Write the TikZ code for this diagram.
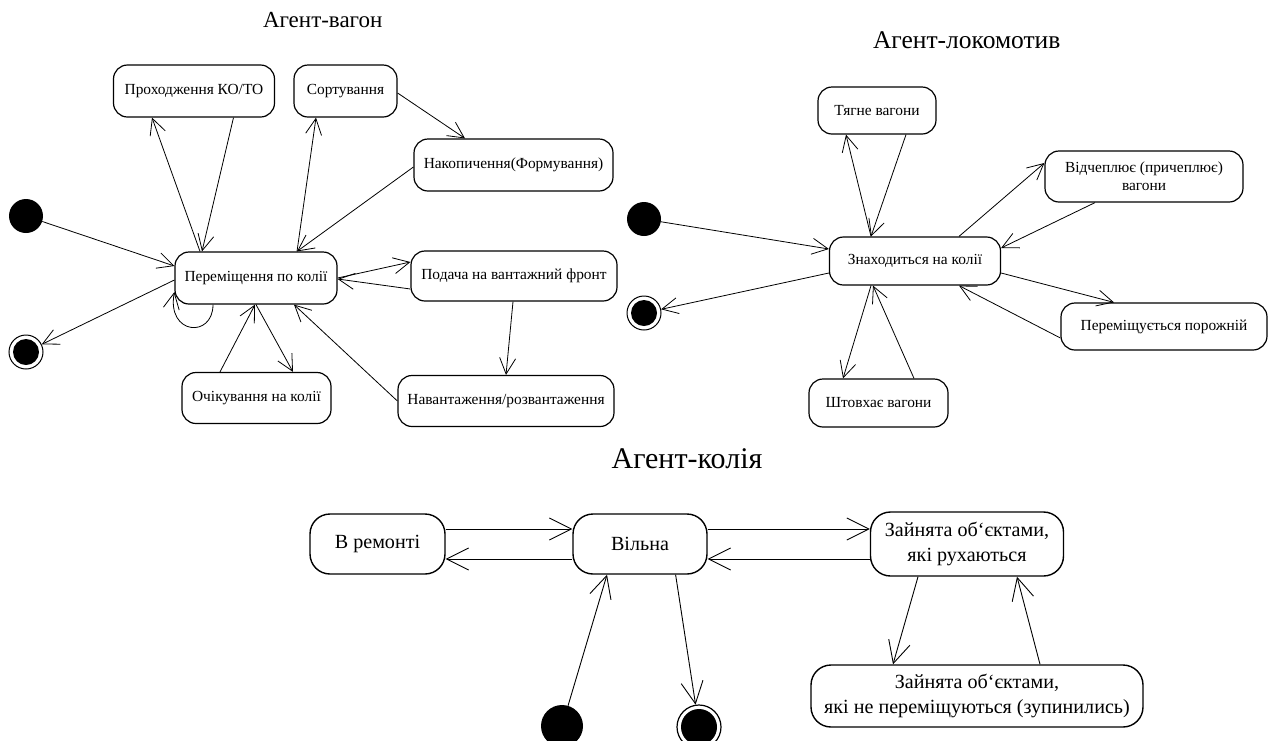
\documentclass[tikz,border=0pt]{standalone}
\usepackage{fontspec}
\setmainfont{Liberation Serif}
\usetikzlibrary{arrows.meta,calc}
\tikzset{
  st/.style={draw, line width=1.2pt, rounded corners=14pt, align=center, inner sep=0pt,
    font=\fontsize{15.4}{18.3}\selectfont},
  stb/.style={draw, line width=1.4pt, rounded corners=20pt, align=center, inner sep=0pt,
    font=\fontsize{20.1}{25.7}\selectfont},
  arr/.style={line width=0.8pt, -{Straight Barb[length=16pt,width=16pt]}},
  arrb/.style={line width=0.9pt, -{Straight Barb[length=22pt,width=22pt]}},
  ini/.style={circle, fill=black, minimum size=34pt, inner sep=0pt},
  fin/.style={circle, draw=black, fill=white, line width=1pt, minimum size=34pt, inner sep=0pt,
    path picture={\fill[black] (path picture bounding box.center) circle (13pt);}},
  inib/.style={circle, fill=black, minimum size=42pt, inner sep=0pt},
  finb/.style={circle, draw=black, fill=white, line width=1.2pt, minimum size=44pt, inner sep=0pt,
    path picture={\fill[black] (path picture bounding box.center) circle (18pt);}},
  ttl/.style={font=\fontsize{23}{26}\selectfont, anchor=base, inner sep=0pt},
}
\begin{document}
\begin{tikzpicture}[x=1pt,y=-1pt]
\useasboundingbox (0,0) rectangle (1271,740);

% titles
\node[ttl] (t1) at (322.7,27.7) {Агент-вагон};
\node[ttl, font=\fontsize{25.5}{28}\selectfont] (t2) at (966.7,48.5) {Агент-локомотив};
\node[ttl, font=\fontsize{30}{33}\selectfont] (t3) at (687,468) {Агент-колія};

% ===== Агент-вагон =====
\node[st, minimum width=161pt, minimum height=52pt] (pko) at (194,91) {Проходження КО/ТО};
\node[st, minimum width=103pt, minimum height=52pt] (sort) at (345.5,91) {Сортування};
\node[st, minimum width=199pt, minimum height=52pt] (nak) at (513.5,165) {Накопичення(Формування)};
\node[st, minimum width=162pt, minimum height=52pt] (per) at (256,278) {Переміщення по колії};
\node[st, minimum width=206pt, minimum height=50pt] (pod) at (514,276) {Подача на вантажний фронт};
\node[st, minimum width=149pt, minimum height=51pt] (och) at (256.5,398) {Очікування на колії};
\node[st, minimum width=216pt, minimum height=51pt] (nav) at (506,401) {Навантаження/розвантаження};
\node[ini] (i1) at (26,216) {};
\node[fin] (f1) at (26,352) {};

\draw[arr] (i1) -- ([yshift=12pt]per.west);
\draw[arr] ([yshift=-2pt]per.west) -- (f1);
\draw[arr] ([xshift=-56pt]per.north) -- ([xshift=-42pt]pko.south);
\draw[arr] ([xshift=39.5pt]pko.south) -- ([xshift=-54pt]per.north);
\draw[arr] ([xshift=41pt]per.north) -- ([xshift=-29.5pt]sort.south);
\draw[arr] ([yshift=-2pt]nak.west) -- ([xshift=41pt]per.north);
\draw[arr] ([yshift=-2pt]sort.east) -- ([xshift=-48.5pt]nak.north);
\draw[arr] (per.east) -- ([yshift=14pt]pod.west);
\draw[arr] ([yshift=-13pt]pod.west) -- ([yshift=-1pt]per.east);
\draw[arr] ([xshift=-1pt]pod.south) -- (nav.north);
\draw[arr] (nav.west) -- ([xshift=38pt]per.south);
\draw[arr] ([xshift=-36.5pt]och.north) -- ([xshift=-1pt]per.south);
\draw[arr] (per.south) -- ([xshift=36.5pt]och.north);
\draw[arr] ([xshift=-43pt]per.south) .. controls +(0,34) and +(-8,43) .. ([yshift=-14pt]per.west);

% ===== Агент-локомотив =====
\node[st, minimum width=118pt, minimum height=47pt] (tyag) at (877,110.5) {Тягне вагони};
\node[st, minimum width=198pt, minimum height=51pt] (vid) at (1144,176.5) {Відчеплює (причеплює)\\вагони};
\node[st, minimum width=171pt, minimum height=48pt] (zn) at (915,261) {Знаходиться на колії};
\node[st, minimum width=206pt, minimum height=47pt] (pp) at (1164,326.5) {Переміщується порожній};
\node[st, minimum width=139pt, minimum height=48pt] (sht) at (878.5,403) {Штовхає вагони};
\node[ini] (i2) at (644,219) {};
\node[fin] (f2) at (644,313) {};

\draw[arr] (i2) -- ([yshift=12pt]zn.west);
\draw[arr] ([yshift=-12pt]zn.west) -- (f2);
\draw[arr] ([xshift=-44pt]zn.north) -- ([xshift=-31pt]tyag.south);
\draw[arr] ([xshift=29pt]tyag.south) -- ([xshift=-44pt]zn.north);
\draw[arr] ([xshift=44pt]zn.north) -- ([yshift=13.5pt]vid.west);
\draw[arr] ([xshift=-49pt]vid.south) -- ([yshift=13pt]zn.east);
\draw[arr] ([yshift=-12pt]zn.east) -- ([xshift=-50pt]pp.north);
\draw[arr] ([yshift=-11.5pt]pp.west) -- ([xshift=44pt]zn.south);
\draw[arr] ([xshift=-44pt]zn.south) -- ([xshift=-35.5pt]sht.north);
\draw[arr] ([xshift=35.5pt]sht.north) -- ([xshift=-42pt]zn.south);

% ===== Агент-колія =====
\node[stb, minimum width=135pt, minimum height=60pt] (rem) at (377.5,544) {В ремонті};
\node[stb, minimum width=134pt, minimum height=60pt] (vil) at (640,544) {Вільна};
\node[stb, minimum width=193pt, minimum height=64pt] (z1) at (967,544) {Зайнята об`єктами,\\які рухаються};
\node[stb, minimum width=332pt, minimum height=62pt] (z2) at (977,696) {Зайнята об`єктами,\\які не переміщуються (зупинились)};
\node[inib] (i3) at (562,726) {};
\node[finb] (f3) at (699,727) {};

\draw[arrb] ([yshift=15pt]rem.east) -- ([yshift=15pt]vil.west);
\draw[arrb] ([yshift=-15pt]vil.west) -- ([yshift=-15pt]rem.east);
\draw[arrb] ([yshift=15pt]vil.east) -- ([yshift=15pt]z1.west);
\draw[arrb] ([yshift=-15pt]z1.west) -- ([yshift=-15pt]vil.east);
\draw[arrb] ([xshift=-49pt]z1.south) -- ([xshift=-84pt]z2.north);
\draw[arrb] ([xshift=63pt]z2.north) -- ([xshift=50pt]z1.south);
\draw[arrb] (i3) -- ([xshift=-33pt]vil.south);
\draw[arrb] ([xshift=35.6pt]vil.south) -- (f3);
\end{tikzpicture}
\end{document}
